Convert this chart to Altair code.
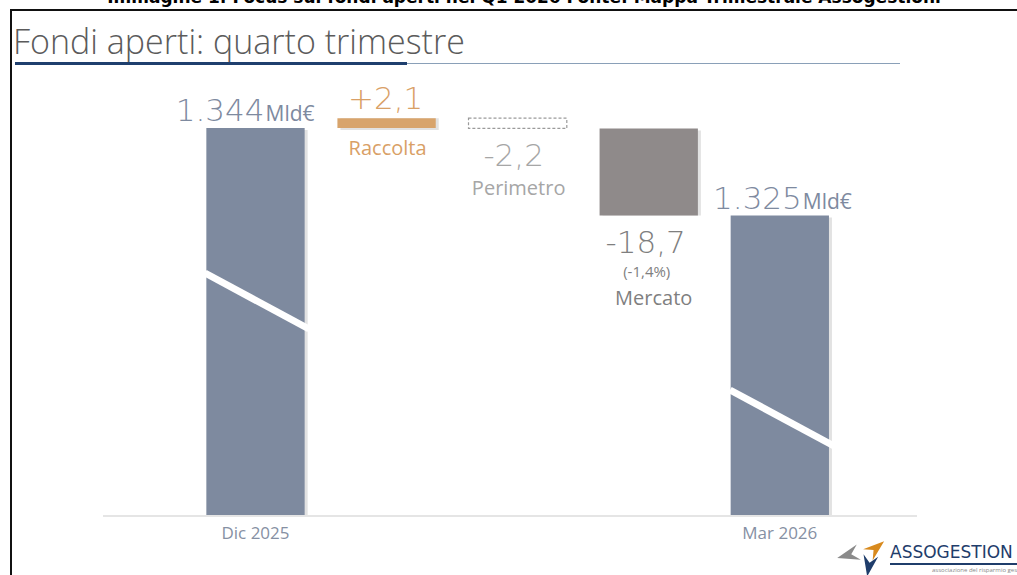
import altair as alt
import pandas as pd

# ---- data ----
categories = ["Dic 2025", "Raccolta", "Perimetro", "Mercato", "Mar 2026"]
start_total = 1344.0          # Mld€
flows = [2.1, -2.2, -18.7]    # Raccolta, Perimetro, Mercato
flow_names = ["Raccolta", "Perimetro", "Mercato"]
flow_labels = ["+2,1", "-2,2", "-18,7"]
total_labels = ["1.344", "1.325"]
mercato_pct = "(-1,4%)"
axis_base = 1260.85           # broken-axis baseline of the total bars

# ---- build waterfall table ----
lvl = start_total
rows = [dict(cat=categories[0], y=start_total, y2=axis_base, kind="total")]
kinds = ["up", "perim", "down"]
for name, v, k in zip(flow_names, flows, kinds):
    rows.append(dict(cat=name, y=lvl, y2=lvl + v, kind=k))
    lvl += v
rows.append(dict(cat=categories[-1], y=lvl, y2=axis_base, kind="total"))
df = pd.DataFrame(rows)
df["top"] = df[["y", "y2"]].max(axis=1)
df["bottom"] = df[["y", "y2"]].min(axis=1)

palette = {"total": "#7e8a9f", "up": "#d8a46c", "down": "#8f8a8a", "perim": "#ffffff"}
df["color"] = df["kind"].map(palette)

W, H = 1017, 575
xs = alt.Scale(domain=categories, range=[103, 917], paddingInner=0.25,
               paddingOuter=0.73, align=0.54)
ys = alt.Scale(domain=[1247.95, 1371.5], zero=False, nice=False)
X = alt.X("cat:N", scale=xs, axis=None)
Y = alt.Y("y:Q", scale=ys, axis=None)
Y2 = alt.Y2("y2:Q")

base = alt.Chart(df)

shadow = base.transform_filter("datum.kind != 'perim'").mark_bar(
    color="#e2e2e2", xOffset=3, yOffset=2).encode(x=X, y=Y, y2=Y2)
bars = base.transform_filter("datum.kind != 'perim'").mark_bar().encode(
    x=X, y=Y, y2=Y2, color=alt.Color("color:N", scale=None))
perim = base.transform_filter("datum.kind == 'perim'").mark_bar(
    fill="#ffffff", stroke="#9a9a9a", strokeDash=[3, 2], strokeWidth=1.2
).encode(x=X, y=Y, y2=Y2)

FONT = "Open Sans"
NUMFONT = "DejaVu Sans"

def txt(cat, field, text, dx, dy, size, color, align="center", font=FONT, weight=300):
    return base.transform_filter(alt.datum.cat == cat).mark_text(
        dx=dx, dy=dy, fontSize=size, color=color, align=align, baseline="alphabetic",
        font=font, fontWeight=weight
    ).encode(x=X, y=alt.Y(f"{field}:Q", scale=ys, axis=None), text=alt.value(text))

slate = "#7e8a9f"
orange = "#d9a066"
lgray = "#a6a6a6"
mgray = "#7f7f7f"

labels = [
    txt("Dic 2025", "top", total_labels[0], 9, -7, 31, slate, "right", NUMFONT, 200),
    txt("Dic 2025", "top", "Mld€", 10, -7, 21, slate, "left", FONT, 400),
    txt("Mar 2026", "top", total_labels[1], 22, -6, 31, slate, "right", NUMFONT, 200),
    txt("Mar 2026", "top", "Mld€", 23, -6, 21, slate, "left", FONT, 400),
    txt("Raccolta", "top", flow_labels[0], -1, -9, 31, orange, "center", NUMFONT, 200),
    txt("Raccolta", "bottom", flow_names[0], 1, 27, 20, orange, "center", FONT, 400),
    txt("Perimetro", "bottom", flow_labels[1], -4, 38, 31, lgray, "center", NUMFONT, 200),
    txt("Perimetro", "bottom", flow_names[1], 1, 67, 20, lgray, "center", FONT, 400),
    txt("Mercato", "bottom", flow_labels[2], -3, 38, 31, mgray, "center", NUMFONT, 200),
    txt("Mercato", "bottom", mercato_pct, -2, 62, 15, mgray, "center", FONT, 400),
    txt("Mercato", "bottom", flow_names[2], 5, 90, 20, mgray, "center", FONT, 400),
]

# category labels under the baseline
cat_lbl = base.transform_filter("datum.kind == 'total'").mark_text(
    fontSize=17, color="#8690a3", font=FONT, baseline="alphabetic", dy=0
).encode(x=X, y=alt.value(539), text="cat:N")

one = alt.Chart(pd.DataFrame({"a": [0]}))

def rule(x, x2, y, y2, color, width, cap="butt"):
    return one.mark_rule(color=color, strokeWidth=width, strokeCap=cap).encode(
        x=alt.value(x), x2=alt.value(x2), y=alt.value(y), y2=alt.value(y2))

def label(text, x, y, size, color, align="left", weight="normal", font=FONT):
    return one.mark_text(text=text, fontSize=size, color=color, align=align,
                         baseline="alphabetic", fontWeight=weight, font=font).encode(
        x=alt.value(x), y=alt.value(y))

decor = [
    rule(103, 917, 516, 516, "#dcdcdc", 1.5),                # baseline
    rule(205, 309, 273, 329, "#ffffff", 7),                    # axis break Dic
    rule(730, 834, 390, 446, "#ffffff", 7),                    # axis break Mar
    rule(10, 1017, 10, 10, "#111111", 2),                      # frame top
    rule(11, 11, 10, 575, "#111111", 2),                       # frame left
    rule(15, 407, 63.5, 63.5, "#1f3f6e", 3),                   # title underline dark
    rule(407, 900, 63.5, 63.5, "#8aa0b8", 1.2),                # title underline light
    label("Immagine 1: Focus sui fondi aperti nel Q1 2026 Fonte: Mappa Trimestrale Assogestioni",
          524, 3, 17, "#000000", "center", "bold", "DejaVu Sans"),
    label("Fondi aperti: quarto trimestre", 13, 54, 34, "#5b5b5b", "left", 300),
    # logo
    label("ASSOGESTION", 890, 558, 17, "#1f3d6b", "left", "normal", "DejaVu Sans"),
    rule(890, 1017, 564, 564, "#1f3d6b", 2),
    label("associazione del risparmio gestito", 932, 572, 6, "#888888", "left"),
]

stars = [
    ("M1,0 L-1,-0.7 L-0.3,0 L-1,0.7 Z", 848, 555, "#8a8a8a", 165, 500),
    ("M1,0 L-1,-0.7 L-0.3,0 L-1,0.7 Z", 876, 548, "#d88a1e", 320, 450),
    ("M1,0 L-1,-0.7 L-0.3,0 L-1,0.7 Z", 869, 566, "#1f3d6b", 100, 450),
]
star_layers = [
    one.mark_point(shape=p, filled=True, color=c, opacity=1, angle=a, size=s,
                   strokeWidth=0).encode(x=alt.value(x), y=alt.value(y))
    for p, x, y, c, a, s in stars
]

chart = alt.layer(
    *decor[:1], shadow, bars, perim, *decor[1:], *labels, cat_lbl, *star_layers
).properties(
    width=W, height=H, padding=0, autosize=alt.AutoSizeParams(type="none"),
    background="#ffffff"
).configure_view(stroke=None)

chart.save("out.html", embed_options={"renderer": "svg", "actions": False})
